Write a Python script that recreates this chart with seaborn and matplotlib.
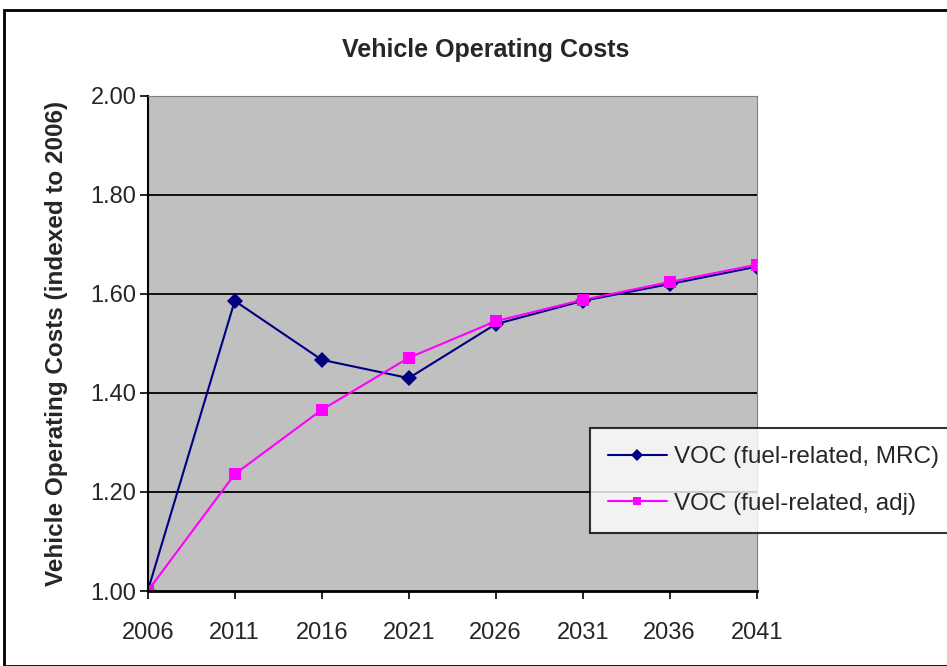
# Vehicle Operating Costs (indexed to 2006)
import pandas as pd
import seaborn as sns
import matplotlib.pyplot as plt
from matplotlib.patches import Rectangle

years = [2006, 2011, 2016, 2021, 2026, 2031, 2036, 2041]
voc_mrc = [1.000, 1.586, 1.467, 1.430, 1.539, 1.586, 1.620, 1.655]
voc_adj = [1.000, 1.236, 1.366, 1.471, 1.545, 1.588, 1.624, 1.659]
series_names = ['VOC (fuel-related, MRC)', 'VOC (fuel-related, adj)']
y_ticks = [1.00, 1.20, 1.40, 1.60, 1.80, 2.00]

df = pd.DataFrame({
    'year': years * 2,
    'value': voc_mrc + voc_adj,
    'series': [series_names[0]] * len(years) + [series_names[1]] * len(years),
})

sns.set_style('white')
plt.rcParams['font.family'] = ['Liberation Sans', 'DejaVu Sans']

fig = plt.figure(figsize=(9.47, 6.66), dpi=100)
ax = fig.add_axes([0.156, 0.1126, 0.643, 0.7434])
ax.set_facecolor('#C0C0C0')

sns.lineplot(data=df, x='year', y='value', hue='series', style='series',
             palette=['#000080', '#FF00FF'], markers=['D', 's'], dashes=False,
             markersize=8.5, markeredgewidth=0, linewidth=1.5, ax=ax)

ax.set_xlim(2006, 2041)
ax.set_ylim(1.0, 2.0)
ax.set_xticks(years)
ax.set_xticklabels([str(y) for y in years])
ax.set_yticks(y_ticks)
ax.set_yticklabels(['%.2f' % v for v in y_ticks])
ax.tick_params(axis='both', labelsize=17, length=6, width=1.2, color='black',
               direction='out', bottom=True, left=True)
ax.tick_params(axis='x', pad=16)
ax.tick_params(axis='y', pad=2)

for v in y_ticks[1:-1]:
    ax.axhline(v, color='black', linewidth=1.3, zorder=0.5)

ax.spines['left'].set_color('black')
ax.spines['bottom'].set_color('black')
ax.spines['left'].set_linewidth(1.5)
ax.spines['bottom'].set_linewidth(2)
ax.spines['top'].set_color('#808080')
ax.spines['right'].set_color('#808080')

ax.set_xlabel('')
ax.set_ylabel('Vehicle Operating Costs (indexed to 2006)', fontsize=17.5,
              fontweight='bold', labelpad=16)
fig.text(0.513, 0.925, 'Vehicle Operating Costs', ha='center', va='center',
         fontsize=18, fontweight='bold')

leg = ax.legend(loc='upper left', bbox_to_anchor=(590 / 947, 1 - 428 / 666),
                bbox_transform=fig.transFigure, fontsize=17.5, frameon=True,
                fancybox=False, borderpad=0.75, handlelength=2.4,
                handletextpad=0.3, labelspacing=1.0, markerscale=0.75,
                borderaxespad=0)
leg.get_frame().set_edgecolor('black')
leg.get_frame().set_linewidth(1.5)

fig.patches.append(Rectangle((4 / 947, 0), 1.0, 1 - 10 / 666,
                             transform=fig.transFigure, fill=False,
                             edgecolor='black', linewidth=2))

plt.savefig('out.png', dpi=100)
